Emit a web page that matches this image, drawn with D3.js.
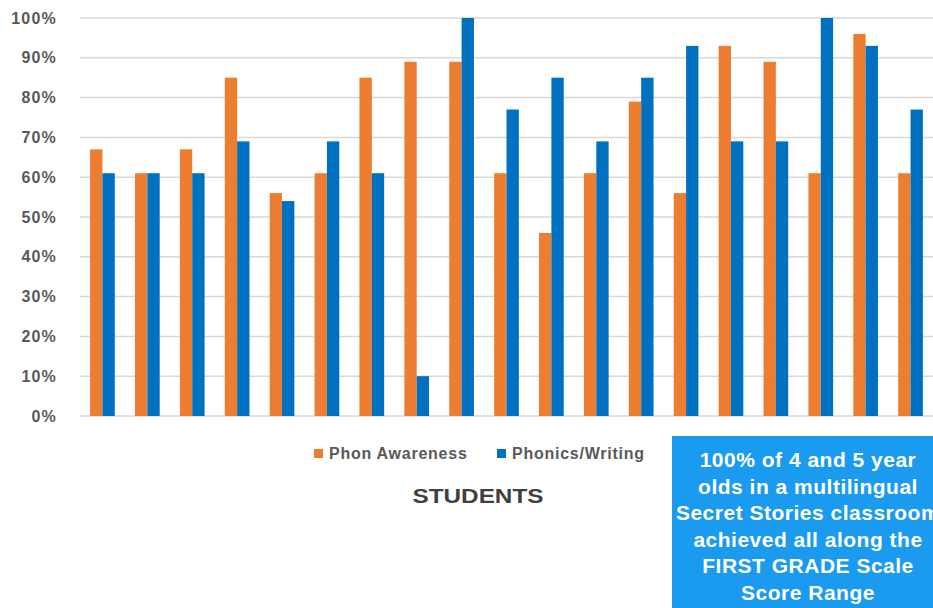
<!DOCTYPE html>
<html><head><meta charset="utf-8">
<script src="https://cdn.jsdelivr.net/npm/d3@7"></script>
<style>
html,body{margin:0;padding:0;background:#fff;overflow:hidden;}
svg{display:block;font-family:"Liberation Sans",Arial,sans-serif;}
</style></head>
<body>
<svg id="c" width="933" height="608"></svg>
<script>
const students = d3.range(1, 20).map(String);
const series = ["Phon Awareness", "Phonics/Writing"];
const phonAwareness = [67, 61, 67, 85, 56, 61, 85, 89, 89, 61, 46, 61, 79, 56, 93, 89, 61, 96, 61];
const phonicsWriting = [61, 61, 61, 69, 54, 69, 61, 10, 100, 77, 85, 69, 85, 93, 69, 69, 100, 93, 77];
const yTicks = [0, 10, 20, 30, 40, 50, 60, 70, 80, 90, 100];
const colors = ["#ED7D31", "#0070C0"];
const xTitle = "STUDENTS";
const noteLines = ["100% of 4 and 5 year", "olds in a multilingual", "Secret Stories classroom", "achieved all along the", "FIRST GRADE Scale", "Score Range"];

const svg = d3.select("#c");
const y = d3.scaleLinear().domain([0, 100]).range([416, 18]);
const x0 = d3.scaleBand().domain(students).range([80, 933]).paddingInner(0.45).paddingOuter(0.225);
const x1 = d3.scaleBand().domain(series).range([0, x0.bandwidth()]);

// gridlines
svg.append("g").selectAll("line").data(yTicks).join("line")
  .attr("x1", 80).attr("x2", 933)
  .attr("y1", d => y(d)).attr("y2", d => y(d))
  .attr("stroke", "#d9d9d9").attr("stroke-width", 1.5);

// y labels
svg.append("g").selectAll("text").data(yTicks).join("text")
  .attr("x", 57).attr("y", d => y(d)).attr("dy", "0.35em")
  .attr("text-anchor", "end").attr("fill", "#595959")
  .attr("font-weight", "bold").attr("font-size", 16).attr("letter-spacing", 1.2)
  .text(d => d + "%");

const data = students.map((s, i) => ({s, vals: [phonAwareness[i], phonicsWriting[i]]}));
const g = svg.append("g").selectAll("g").data(data).join("g")
  .attr("transform", d => `translate(${x0(d.s)},0)`);
g.selectAll("rect").data(d => d.vals.map((v, j) => ({v, k: series[j], j}))).join("rect")
  .attr("x", d => x1(d.k)).attr("width", x1.bandwidth())
  .attr("y", d => y(d.v)).attr("height", d => y(0) - y(d.v))
  .attr("fill", d => colors[d.j]);

// legend
const legX = [314, 497];
const leg = svg.append("g").selectAll("g").data(series).join("g")
  .attr("transform", (d, i) => `translate(${legX[i]},449)`);
leg.append("rect").attr("width", 9).attr("height", 9).attr("fill", (d, i) => colors[i]);
leg.append("text").attr("x", 15).attr("y", 4.5).attr("dy", "0.36em")
  .attr("fill", "#595959").attr("font-weight", "bold").attr("font-size", 16).attr("letter-spacing", 0.75)
  .text(d => d);

// x title
svg.append("text").attr("x", 478).attr("y", 503).attr("text-anchor", "middle")
  .attr("fill", "#404040").attr("font-weight", "bold").attr("font-size", 20)
  .attr("textLength", 131).attr("lengthAdjust", "spacingAndGlyphs")
  .text(xTitle);

// note box
svg.append("rect").attr("x", 672).attr("y", 436).attr("width", 280).attr("height", 180).attr("fill", "#1A9BF0");
svg.append("g").selectAll("text").data(noteLines).join("text")
  .attr("x", 808).attr("y", (d, i) => 467 + i * 26.6)
  .attr("text-anchor", "middle").attr("fill", "#fff")
  .attr("font-weight", "bold").attr("font-size", 21).attr("letter-spacing", 0.5)
  .text(d => d);
</script>
</body></html>
